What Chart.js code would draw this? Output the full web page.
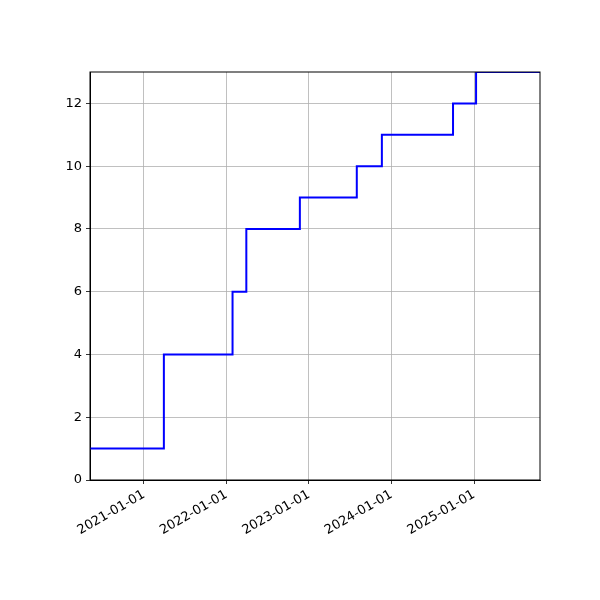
<!DOCTYPE html>
<html><head><meta charset="utf-8">
<script src="https://cdn.jsdelivr.net/npm/chart.js@4"></script>
<style>html,body{margin:0;padding:0;background:#fff}#w{width:600px;height:600px}</style>
</head><body><div id="w"><canvas id="c" width="600" height="600"></canvas></div>
<script>
const dates = ["2020-05-07","2021-03-30","2022-01-28","2022-03-30","2022-11-22","2023-08-01","2023-11-20","2024-09-30","2025-01-10","2025-10-25"];
const values = [1,4,6,8,9,10,11,12,13,13];
const tickDates = ["2021-01-01","2022-01-01","2023-01-01","2024-01-01","2025-01-01"];
const xMinDate = "2020-05-07", xMaxDate = "2025-10-20";
const yTicks = [0,2,4,6,8,10,12];

const ms = s => Date.parse(s + "T00:00:00Z");
const pts = dates.map((d,i)=>({x:ms(d), y:values[i]}));
const font = {family:"DejaVu Sans", size:13};
new Chart(document.getElementById('c'), {
  type:'line',
  data:{datasets:[{data:pts, stepped:true, borderColor:'#0000ff', borderWidth:2, pointRadius:0, fill:false}]},
  options:{
    responsive:false, animation:false,
    plugins:{legend:{display:false}, tooltip:{enabled:false}},
    layout:{padding:{top:72, right:60, left:0, bottom:0}},
    scales:{
      x:{type:'linear', min:ms(xMinDate), max:ms(xMaxDate),
        afterBuildTicks:ax=>{ax.ticks = tickDates.map(d=>({value:ms(d)}));},
        afterFit:ax=>{ax.height=120;},
        ticks:{color:'#000', font, minRotation:30, maxRotation:30, autoSkip:false,
          callback:v=>new Date(v).toISOString().slice(0,10)},
        grid:{color:'#b0b0b0', lineWidth:0.8, tickLength:4, tickColor:'#000'},
        border:{color:'#000', width:1}},
      y:{min:0, max:13,
        afterBuildTicks:ax=>{ax.ticks = yTicks.map(v=>({value:v}));},
        afterFit:ax=>{ax.width=90;},
        ticks:{color:'#000', font, padding:4},
        grid:{color:'#b0b0b0', lineWidth:0.8, tickLength:4, tickColor:'#000'},
        border:{color:'#000', width:1}}
    }
  },
  plugins:[{id:'frame', afterDraw(ch){const a=ch.chartArea,c=ch.ctx;c.save();c.strokeStyle='#000';c.lineWidth=1;c.strokeRect(a.left,a.top,a.right-a.left,a.bottom-a.top);c.restore();}}]
});
</script></body></html>
